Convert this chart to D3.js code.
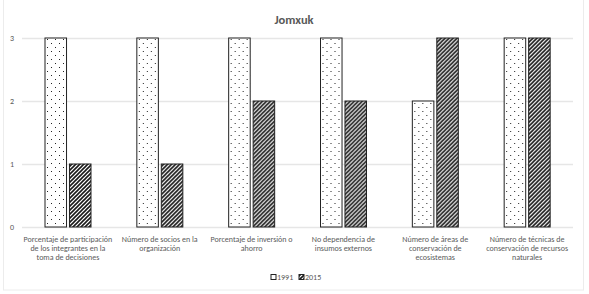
<!DOCTYPE html>
<html>
<head>
<meta charset="utf-8">
<script src="https://cdn.jsdelivr.net/npm/d3@7"></script>
<style>
  body { margin: 0; background: #fff; }
  svg { display: block; }
</style>
</head>
<body>
<div id="chart"></div>
<script>
(function () {
  'use strict';

  // ── Data ──
  var categories = [
    ['Porcentaje de participación', 'de los integrantes en la', 'toma de decisiones'],
    ['Número de socios en la', 'organización'],
    ['Porcentaje de inversión o', 'ahorro'],
    ['No dependencia de', 'insumos externos'],
    ['Número de áreas de', 'conservación de', 'ecosistemas'],
    ['Número de técnicas de', 'conservación de recursos', 'naturales']
  ];
  var seriesNames = ['1991', '2015'];
  var values1991 = [3, 3, 3, 3, 2, 3];
  var values2015 = [1, 1, 2, 2, 3, 3];
  var yTicks = [0, 1, 2, 3];

  // ── Layout ──
  var W = 589, H = 294;
  var MARGIN = { top: 38, right: 16, bottom: 67, left: 22 };
  var FONT = 'Calibri, Carlito, "Open Sans", sans-serif';
  var TEXT_COLOR = '#595959';
  var GRID_COLOR = '#e6e6e6';

  var svg = d3.select('#chart').append('svg')
    .attr('width', W)
    .attr('height', H);

  // patterns
  var defs = svg.append('defs');
  var dots = defs.append('pattern')
    .attr('id', 'pat-dots')
    .attr('patternUnits', 'userSpaceOnUse')
    .attr('width', 8).attr('height', 8);
  dots.append('rect').attr('width', 8).attr('height', 8).attr('fill', '#fff');
  dots.append('rect').attr('x', 1).attr('y', 1).attr('width', 1).attr('height', 1).attr('fill', '#222');
  dots.append('rect').attr('x', 5).attr('y', 5).attr('width', 1).attr('height', 1).attr('fill', '#222');

  var hatch = defs.append('pattern')
    .attr('id', 'pat-hatch')
    .attr('patternUnits', 'userSpaceOnUse')
    .attr('width', 4).attr('height', 4);
  hatch.append('rect').attr('width', 4).attr('height', 4).attr('fill', '#fff');
  hatch.append('path')
    .attr('d', 'M-1,1 l2,-2 M0,4 l4,-4 M3,5 l2,-2')
    .attr('stroke', '#1a1a1a')
    .attr('stroke-width', 1.6);

  var fills = ['url(#pat-dots)', 'url(#pat-hatch)'];

  // chart border
  svg.append('rect')
    .attr('x', 3.5).attr('y', -2)
    .attr('width', 580).attr('height', 292)
    .attr('fill', 'none')
    .attr('stroke', '#ececec');

  // title
  svg.append('text')
    .attr('x', 294)
    .attr('y', 24)
    .attr('text-anchor', 'middle')
    .attr('fill', TEXT_COLOR)
    .attr('font-family', FONT)
    .attr('font-size', '12.5px')
    .attr('font-weight', 'bold')
    .text('Jomxuk');

  var plotW = W - MARGIN.left - MARGIN.right;
  var plotH = 227 - MARGIN.top;

  var g = svg.append('g')
    .attr('transform', 'translate(' + MARGIN.left + ',' + MARGIN.top + ')');

  var x0 = d3.scaleBand()
    .domain(d3.range(categories.length))
    .range([0, plotW]);

  var x1 = d3.scaleBand()
    .domain(seriesNames)
    .range([23, 69])
    .paddingInner(0.12);

  var y = d3.scaleLinear()
    .domain([0, 3])
    .range([plotH, 0]);

  // grid
  var yAxis = d3.axisLeft(y)
    .tickValues(yTicks)
    .tickSize(-plotW)
    .tickPadding(8)
    .tickFormat(d3.format('d'));

  var yG = g.append('g').call(yAxis);
  yG.select('.domain').remove();
  yG.selectAll('.tick line')
    .attr('stroke', GRID_COLOR)
    .attr('stroke-width', 1.5);
  yG.selectAll('.tick text')
    .attr('fill', TEXT_COLOR)
    .attr('font-family', FONT)
    .attr('font-size', '8px');

  // bars
  var rows = categories.map(function (c, i) {
    return [
      { s: 0, key: seriesNames[0], v: values1991[i] },
      { s: 1, key: seriesNames[1], v: values2015[i] }
    ];
  });

  var groups = g.selectAll('.cat')
    .data(rows)
    .join('g')
    .attr('class', 'cat')
    .attr('transform', function (d, i) { return 'translate(' + x0(i) + ',0)'; });

  groups.selectAll('rect')
    .data(function (d) { return d; })
    .join('rect')
    .attr('x', function (d) { return x1(d.key); })
    .attr('width', x1.bandwidth())
    .attr('y', function (d) { return y(d.v); })
    .attr('height', function (d) { return plotH - y(d.v); })
    .attr('fill', function (d) { return fills[d.s]; })
    .attr('stroke', '#222')
    .attr('stroke-width', 1);

  // category labels
  var labels = g.selectAll('.cat-label')
    .data(categories)
    .join('text')
    .attr('class', 'cat-label')
    .attr('text-anchor', 'middle')
    .attr('fill', TEXT_COLOR)
    .attr('font-family', FONT)
    .attr('font-size', '8px')
    .attr('transform', function (d, i) {
      return 'translate(' + (x0(i) + x0.bandwidth() / 2) + ',' + (plotH + 15) + ')';
    });

  labels.selectAll('tspan')
    .data(function (d) { return d; })
    .join('tspan')
    .attr('x', 0)
    .attr('dy', function (d, i) { return i === 0 ? 0 : 9; })
    .text(function (d) { return d; });

  // legend
  var legendX = [271, 299];
  var leg = svg.selectAll('.legend')
    .data(seriesNames)
    .join('g')
    .attr('class', 'legend')
    .attr('transform', function (d, i) { return 'translate(' + legendX[i] + ',280)'; });

  leg.append('rect')
    .attr('width', 5).attr('height', 5)
    .attr('y', -5.5)
    .attr('fill', function (d, i) { return fills[i]; })
    .attr('stroke', '#222')
    .attr('stroke-width', 1);

  leg.append('text')
    .attr('x', 6)
    .attr('y', 0)
    .attr('fill', TEXT_COLOR)
    .attr('font-family', FONT)
    .attr('font-size', '8px')
    .text(function (d) { return d; });
})();
</script>
</body>
</html>
